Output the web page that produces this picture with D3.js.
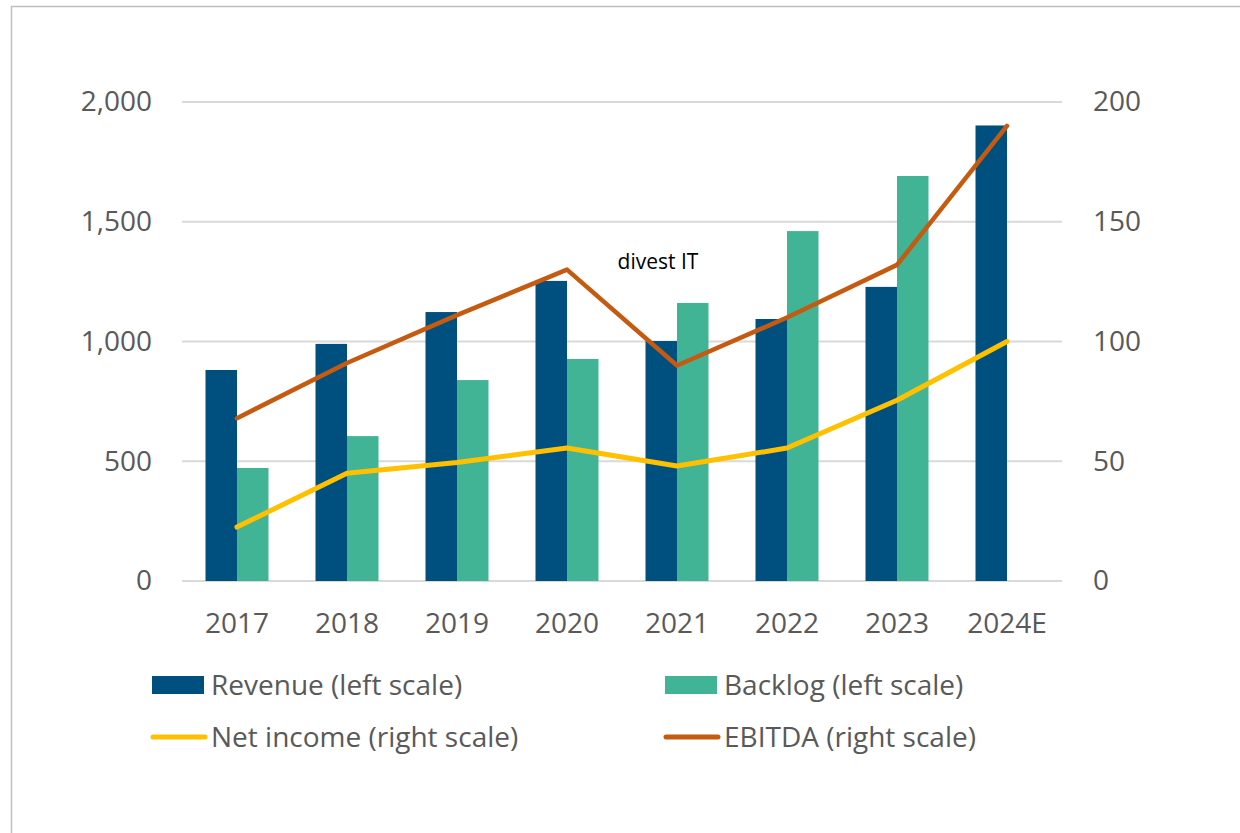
<!DOCTYPE html>
<html>
<head>
<meta charset="utf-8">
<script src="https://cdn.jsdelivr.net/npm/d3@7"></script>
<style>
  body { margin: 0; background: #fff; }
  svg { display: block; font-family: "Open Sans", "Noto Sans", sans-serif; }
</style>
</head>
<body>
<svg id="chart" width="1240" height="833"></svg>
<script>
const years = ["2017", "2018", "2019", "2020", "2021", "2022", "2023", "2024E"];
const revenue = [881, 990, 1123, 1253, 1002, 1094, 1228, 1902];
const backlog = [472, 605, 839, 927, 1161, 1461, 1691, null];
const netIncome = [22.5, 45, 49.5, 55.5, 48, 55.5, 75.5, 100];
const ebitda = [68, 91, 111, 130, 90, 110, 132, 190];
const leftTicks = [0, 500, 1000, 1500, 2000];
const rightTicks = [0, 50, 100, 150, 200];

const svg = d3.select("#chart");
const margin = { top: 102, left: 182, right: 178, bottom: 252 };
const w = 1240 - margin.left - margin.right, h = 833 - margin.top - margin.bottom;

// outer border
svg.append("rect").attr("x", 11.5).attr("y", 6.5).attr("width", 1260).attr("height", 860)
  .attr("fill", "none").attr("stroke", "#bfbfbf").attr("stroke-width", 1.5);

const g = svg.append("g").attr("transform", `translate(${margin.left},${margin.top})`);

const x = d3.scaleBand().domain(years).range([0, w]);
const xSub = d3.scaleBand().domain(["rev", "back"]).range([x.bandwidth() / 2 - 31.5, x.bandwidth() / 2 + 31.5]);
const yL = d3.scaleLinear().domain([0, 2000]).range([h, 0]);
const yR = d3.scaleLinear().domain([0, 200]).range([h, 0]);

// gridlines
g.selectAll(".grid").data(leftTicks).enter().append("line")
  .attr("x1", 0).attr("x2", w).attr("y1", d => yL(d)).attr("y2", d => yL(d))
  .attr("stroke", "#d9d9d9").attr("stroke-width", 2);

// axes (labels only)
const fmt = d3.format(",");
const axL = g.append("g").call(d3.axisLeft(yL).tickValues(leftTicks).tickFormat(fmt).tickSize(0).tickPadding(30));
const axR = g.append("g").attr("transform", `translate(${w},0)`).call(d3.axisRight(yR).tickValues(rightTicks).tickSize(0).tickPadding(31));
const axB = g.append("g").attr("transform", `translate(0,${h})`).call(d3.axisBottom(x).tickSize(0).tickPadding(37));
[axL, axR, axB].forEach(a => {
  a.select(".domain").remove();
  a.selectAll("text").attr("fill", "#595959").attr("font-size", "28px").attr("font-family", "'Open Sans', sans-serif");
});
axB.selectAll("text").attr("dy", "0.55em");

// bars
const grp = g.selectAll(".yr").data(years).enter().append("g").attr("transform", d => `translate(${x(d)},0)`);
grp.append("rect")
  .attr("x", xSub("rev")).attr("width", xSub.bandwidth())
  .attr("y", (d, i) => yL(revenue[i])).attr("height", (d, i) => h - yL(revenue[i]))
  .attr("fill", "#00507f");
grp.filter((d, i) => backlog[i] != null).append("rect")
  .attr("x", xSub("back")).attr("width", xSub.bandwidth())
  .attr("y", d => yL(backlog[years.indexOf(d)])).attr("height", d => h - yL(backlog[years.indexOf(d)]))
  .attr("fill", "#41b496");

// lines
const cx = d => x(d) + x.bandwidth() / 2;
const lineNI = d3.line().x((d, i) => cx(years[i])).y(d => yR(d));
g.append("path").datum(netIncome).attr("d", lineNI).attr("fill", "none")
  .attr("stroke", "#ffc000").attr("stroke-width", 5).attr("stroke-linecap", "round").attr("stroke-linejoin", "round");
g.append("path").datum(ebitda).attr("d", lineNI).attr("fill", "none")
  .attr("stroke", "#c55a11").attr("stroke-width", 4.5).attr("stroke-linecap", "round").attr("stroke-linejoin", "round");

// annotation
g.append("text").attr("x", cx("2020") + 91).attr("y", yR(130) - 1)
  .attr("text-anchor", "middle").attr("font-size", "21px").attr("fill", "#000").text("divest IT");

// legend
const legendItems = [
  { label: "Revenue (left scale)", type: "bar", color: "#00507f", x: 152, y: 685 },
  { label: "Backlog (left scale)", type: "bar", color: "#41b496", x: 665, y: 685 },
  { label: "Net income (right scale)", type: "line", color: "#ffc000", x: 152, y: 737 },
  { label: "EBITDA (right scale)", type: "line", color: "#c55a11", x: 665, y: 737 }
];
const lg = svg.selectAll(".lg").data(legendItems).enter().append("g").attr("transform", d => `translate(${d.x},${d.y})`);
lg.filter(d => d.type === "bar").append("rect").attr("x", 0).attr("y", -9).attr("width", 52).attr("height", 18).attr("fill", d => d.color);
lg.filter(d => d.type === "line").append("line").attr("x1", 1).attr("x2", 53).attr("y1", 0).attr("y2", 0)
  .attr("stroke", d => d.color).attr("stroke-width", 5).attr("stroke-linecap", "round");
lg.append("text").attr("x", 59).attr("y", 0).attr("dy", "0.35em").attr("font-size", "28px").attr("fill", "#595959").text(d => d.label);
</script>
</body>
</html>
